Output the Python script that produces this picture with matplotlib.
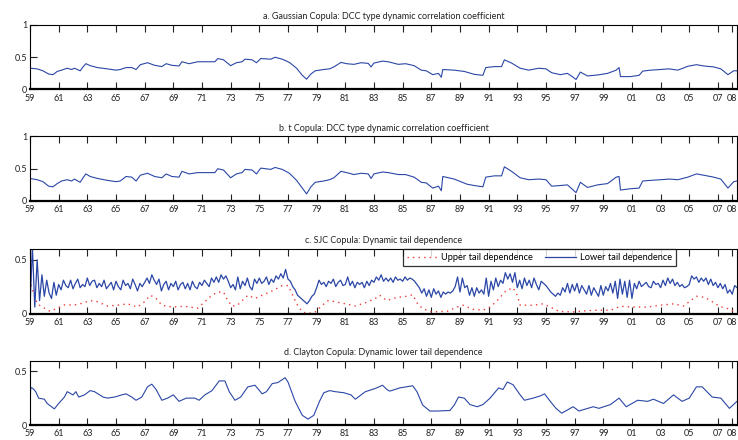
import matplotlib
matplotlib.use("Agg")
import matplotlib.pyplot as plt
import numpy as np

plt.rcParams['font.family'] = ['Lato', 'DejaVu Sans']
plt.rcParams['font.size'] = 6.5

# ---- data (year, value) ----
gauss_pts = [
    (1959.0, 0.33), (1959.5, 0.32), (1959.9, 0.29), (1960.3, 0.24), (1960.6, 0.23), (1960.9, 0.28),
    (1961.2, 0.30), (1961.6, 0.33), (1961.9, 0.31), (1962.1, 0.33), (1962.5, 0.29), (1962.7, 0.35),
    (1962.9, 0.40), (1963.2, 0.37), (1963.7, 0.34), (1964.4, 0.32), (1965.0, 0.30), (1965.3, 0.31),
    (1965.7, 0.34), (1966.1, 0.34), (1966.4, 0.31), (1966.7, 0.385), (1967.2, 0.415), (1967.7, 0.375),
    (1968.2, 0.355), (1968.5, 0.40), (1968.9, 0.375), (1969.4, 0.365), (1969.6, 0.43), (1970.1, 0.40),
    (1970.7, 0.43), (1971.3, 0.43), (1971.9, 0.43), (1972.1, 0.48), (1972.5, 0.46), (1973.0, 0.37),
    (1973.4, 0.415), (1973.8, 0.43), (1974.0, 0.47), (1974.5, 0.46), (1974.8, 0.415), (1975.1, 0.48),
    (1975.8, 0.47), (1976.1, 0.50), (1976.6, 0.47), (1977.1, 0.42), (1977.6, 0.33), (1978.0, 0.22),
    (1978.3, 0.16), (1978.6, 0.24), (1978.9, 0.29), (1979.5, 0.31), (1979.9, 0.32), (1980.2, 0.35),
    (1980.7, 0.42), (1981.1, 0.40), (1981.6, 0.39), (1982.1, 0.415), (1982.6, 0.405), (1982.8, 0.35),
    (1983.0, 0.41), (1983.6, 0.44), (1984.0, 0.43), (1984.7, 0.39), (1985.2, 0.40), (1985.8, 0.37),
    (1986.3, 0.30), (1986.65, 0.29), (1987.1, 0.23), (1987.5, 0.25), (1987.7, 0.19), (1987.8, 0.31),
    (1988.6, 0.30), (1989.3, 0.28), (1990.0, 0.235), (1990.6, 0.22), (1990.8, 0.34), (1991.4, 0.355),
    (1991.9, 0.355), (1992.1, 0.46), (1992.6, 0.41), (1993.2, 0.33), (1993.8, 0.30), (1994.5, 0.33),
    (1995.0, 0.32), (1995.4, 0.26), (1996.0, 0.23), (1996.5, 0.25), (1996.9, 0.19), (1997.1, 0.155),
    (1997.4, 0.27), (1997.9, 0.21), (1998.6, 0.225), (1999.3, 0.25), (1999.9, 0.30), (2000.1, 0.34),
    (2000.2, 0.20), (2000.9, 0.20), (2001.5, 0.22), (2001.75, 0.285), (2002.3, 0.30), (2003.0, 0.31),
    (2003.6, 0.32), (2004.2, 0.30), (2004.9, 0.36), (2005.5, 0.385), (2006.0, 0.365), (2006.7, 0.35),
    (2007.2, 0.32), (2007.7, 0.23), (2008.1, 0.29), (2008.33, 0.29),
]

t_pts = [
    (1959.0, 0.35), (1959.5, 0.33), (1959.9, 0.30), (1960.3, 0.23), (1960.6, 0.22), (1960.9, 0.27),
    (1961.2, 0.31), (1961.6, 0.33), (1961.9, 0.31), (1962.1, 0.34), (1962.5, 0.29), (1962.7, 0.36),
    (1962.9, 0.42), (1963.2, 0.38), (1963.7, 0.35), (1964.4, 0.32), (1965.0, 0.30), (1965.3, 0.31),
    (1965.7, 0.38), (1966.1, 0.37), (1966.4, 0.31), (1966.7, 0.40), (1967.2, 0.43), (1967.7, 0.38),
    (1968.2, 0.36), (1968.5, 0.42), (1968.9, 0.38), (1969.4, 0.37), (1969.6, 0.46), (1970.1, 0.42),
    (1970.7, 0.44), (1971.3, 0.44), (1971.9, 0.44), (1972.1, 0.50), (1972.5, 0.48), (1973.0, 0.36),
    (1973.4, 0.42), (1973.8, 0.44), (1974.0, 0.49), (1974.5, 0.48), (1974.8, 0.42), (1975.1, 0.51),
    (1975.8, 0.49), (1976.1, 0.52), (1976.6, 0.49), (1977.1, 0.43), (1977.6, 0.32), (1978.0, 0.20),
    (1978.3, 0.11), (1978.6, 0.22), (1978.9, 0.29), (1979.5, 0.31), (1979.9, 0.33), (1980.2, 0.36),
    (1980.7, 0.46), (1981.1, 0.44), (1981.6, 0.41), (1982.1, 0.43), (1982.6, 0.42), (1982.8, 0.35),
    (1983.0, 0.42), (1983.6, 0.45), (1984.0, 0.44), (1984.7, 0.41), (1985.2, 0.41), (1985.8, 0.37),
    (1986.3, 0.29), (1986.65, 0.28), (1987.1, 0.20), (1987.5, 0.23), (1987.7, 0.16), (1987.8, 0.38),
    (1988.6, 0.34), (1989.5, 0.26), (1990.0, 0.24), (1990.6, 0.22), (1990.8, 0.37), (1991.4, 0.39),
    (1991.9, 0.39), (1992.1, 0.53), (1992.6, 0.46), (1993.2, 0.36), (1993.8, 0.33), (1994.5, 0.34),
    (1995.0, 0.33), (1995.4, 0.23), (1996.0, 0.24), (1996.5, 0.25), (1996.9, 0.17), (1997.1, 0.13),
    (1997.4, 0.29), (1997.9, 0.21), (1998.6, 0.25), (1999.3, 0.27), (1999.9, 0.37), (2000.1, 0.38),
    (2000.2, 0.17), (2000.9, 0.19), (2001.5, 0.20), (2001.75, 0.31), (2002.3, 0.32), (2003.0, 0.33),
    (2003.6, 0.34), (2004.2, 0.33), (2004.9, 0.37), (2005.5, 0.42), (2006.0, 0.40), (2006.7, 0.37),
    (2007.2, 0.34), (2007.7, 0.20), (2008.1, 0.30), (2008.33, 0.31),
]

# SJC lower tail: values every two months from Jan 1959
sjc_lower = [
    0.05, 0.62, 0.06, 0.50, 0.12, 0.36,   # 1959
    0.16, 0.31, 0.19, 0.14, 0.29, 0.17,   # 1960
    0.27, 0.22, 0.31, 0.26, 0.24, 0.31,
    0.23, 0.28, 0.32, 0.24, 0.27, 0.25,
    0.33, 0.26, 0.30, 0.31, 0.24, 0.28,
    0.25, 0.31, 0.23, 0.26, 0.29, 0.22,
    0.30, 0.25, 0.22, 0.31, 0.26, 0.28,   # 1965
    0.23, 0.32, 0.27, 0.21, 0.28, 0.25,
    0.29, 0.33, 0.28, 0.36, 0.31, 0.27,
    0.32, 0.21, 0.27, 0.30, 0.22, 0.28,
    0.25, 0.30, 0.22, 0.27, 0.29, 0.23,
    0.28, 0.22, 0.30, 0.25, 0.23, 0.29,   # 1970
    0.26, 0.31, 0.28, 0.25, 0.33, 0.29,
    0.34, 0.29, 0.36, 0.32, 0.35, 0.30,
    0.24, 0.27, 0.22, 0.34, 0.23, 0.30,
    0.26, 0.33, 0.25, 0.22, 0.32, 0.28,
    0.33, 0.28, 0.30, 0.34, 0.27, 0.32,   # 1975
    0.29, 0.35, 0.32, 0.37, 0.33, 0.41,
    0.32, 0.30, 0.25, 0.22, 0.17, 0.15,
    0.13, 0.11, 0.09, 0.12, 0.16, 0.18,
    0.24, 0.31, 0.27, 0.29, 0.25, 0.30,
    0.28, 0.32, 0.25, 0.29, 0.31, 0.26,   # 1980
    0.27, 0.34, 0.26, 0.30, 0.24, 0.29,
    0.27, 0.29, 0.24, 0.30, 0.26, 0.31,
    0.29, 0.34, 0.31, 0.36, 0.30, 0.33,
    0.30, 0.33, 0.29, 0.34, 0.31, 0.32,
    0.30, 0.34, 0.31, 0.33, 0.32, 0.30,   # 1985
    0.27, 0.24, 0.19, 0.23, 0.16, 0.22,
    0.15, 0.23, 0.18, 0.21, 0.15, 0.20,
    0.18, 0.20, 0.19, 0.21, 0.25, 0.34,
    0.20, 0.33, 0.24, 0.26, 0.17, 0.24,
    0.16, 0.24, 0.19, 0.22, 0.18, 0.33,   # 1990
    0.16, 0.30, 0.22, 0.33, 0.25, 0.31,
    0.28, 0.38, 0.32, 0.37, 0.29, 0.38,
    0.24, 0.31, 0.23, 0.33, 0.26, 0.31,
    0.24, 0.33, 0.27, 0.22, 0.30, 0.28,
    0.26, 0.23, 0.20, 0.18, 0.16, 0.19,   # 1995
    0.17, 0.24, 0.20, 0.28, 0.19, 0.27,
    0.21, 0.28, 0.19, 0.26, 0.22, 0.18,
    0.26, 0.17, 0.24, 0.20, 0.16, 0.26,
    0.17, 0.25, 0.21, 0.28, 0.19, 0.30,
    0.14, 0.32, 0.18, 0.30, 0.15, 0.31,   # 2000
    0.14, 0.28, 0.23, 0.30, 0.25, 0.27,
    0.29, 0.25, 0.24, 0.30, 0.27, 0.28,
    0.24, 0.31, 0.26, 0.33, 0.28, 0.32,
    0.26, 0.29, 0.25, 0.27, 0.24, 0.25,
    0.27, 0.35, 0.32, 0.34, 0.29, 0.33,   # 2005
    0.30, 0.33, 0.27, 0.32, 0.26, 0.29,
    0.24, 0.28, 0.23, 0.27, 0.19, 0.22,
    0.18, 0.26, 0.24,                     # 2008
]

sjc_upper_pts = [
    (1959.0, 0.37), (1959.1, 0.25), (1959.5, 0.09), (1960.0, 0.05), (1960.4, 0.02), (1960.9, 0.05),
    (1961.4, 0.08), (1962.1, 0.08), (1962.5, 0.09), (1963.2, 0.12), (1963.7, 0.11), (1964.4, 0.07),
    (1965.1, 0.077), (1965.8, 0.09), (1966.5, 0.06), (1967.0, 0.11), (1967.4, 0.17), (1967.8, 0.14),
    (1968.2, 0.077), (1968.9, 0.06), (1969.8, 0.067), (1970.7, 0.05), (1971.2, 0.11), (1971.7, 0.17),
    (1972.1, 0.20), (1972.5, 0.20), (1972.8, 0.12), (1973.1, 0.067), (1973.5, 0.08), (1974.2, 0.17),
    (1974.7, 0.14), (1975.2, 0.17), (1975.9, 0.21), (1976.6, 0.26), (1977.0, 0.26), (1977.3, 0.18),
    (1977.6, 0.09), (1978.0, 0.015), (1978.4, 0.0), (1978.9, 0.015), (1979.4, 0.077), (1979.8, 0.12),
    (1980.3, 0.11), (1981.0, 0.09), (1981.7, 0.07), (1982.4, 0.10), (1983.1, 0.14), (1983.4, 0.17),
    (1983.9, 0.12), (1984.6, 0.15), (1985.3, 0.16), (1985.7, 0.175), (1986.1, 0.077), (1986.5, 0.04),
    (1987.0, 0.015), (1988.1, 0.02), (1988.8, 0.06), (1989.2, 0.077), (1989.9, 0.04), (1990.6, 0.03),
    (1991.1, 0.06), (1991.6, 0.12), (1992.2, 0.21), (1992.7, 0.24), (1993.0, 0.17), (1993.2, 0.077),
    (1994.1, 0.077), (1994.8, 0.09), (1995.3, 0.06), (1995.9, 0.02), (1996.9, 0.015), (1998.3, 0.03),
    (1999.5, 0.03), (2000.2, 0.067), (2001.1, 0.06), (2002.1, 0.06), (2003.0, 0.077), (2003.9, 0.09),
    (2004.6, 0.07), (2005.0, 0.11), (2005.5, 0.16), (2006.1, 0.15), (2006.6, 0.11), (2007.1, 0.067),
    (2007.7, 0.045), (2008.0, 0.025), (2008.33, 0.03),
]

clayton_pts = [
    (1959.0, 0.15), (1959.05, 0.35), (1959.2, 0.34), (1959.4, 0.31), (1959.6, 0.25), (1960.0, 0.24),
    (1960.2, 0.20), (1960.7, 0.15), (1961.0, 0.20), (1961.4, 0.26), (1961.6, 0.31), (1962.0, 0.28),
    (1962.2, 0.31), (1962.4, 0.26), (1962.8, 0.28), (1963.2, 0.32), (1963.5, 0.31), (1964.1, 0.26),
    (1964.4, 0.25), (1964.9, 0.26), (1965.4, 0.28), (1965.7, 0.29), (1966.1, 0.26), (1966.4, 0.23),
    (1966.8, 0.26), (1967.2, 0.355), (1967.5, 0.38), (1967.8, 0.33), (1968.2, 0.23), (1968.6, 0.25),
    (1969.0, 0.28), (1969.4, 0.22), (1969.9, 0.25), (1970.5, 0.25), (1970.8, 0.23), (1971.2, 0.28),
    (1971.7, 0.32), (1972.2, 0.41), (1972.6, 0.41), (1972.9, 0.31), (1973.3, 0.23), (1973.7, 0.26),
    (1974.2, 0.355), (1974.7, 0.37), (1975.2, 0.29), (1975.5, 0.31), (1975.9, 0.385), (1976.3, 0.395),
    (1976.8, 0.44), (1977.0, 0.40), (1977.5, 0.22), (1978.0, 0.09), (1978.4, 0.055), (1978.8, 0.09),
    (1979.2, 0.22), (1979.5, 0.30), (1979.9, 0.32), (1980.3, 0.31), (1980.9, 0.30), (1981.4, 0.28),
    (1981.7, 0.24), (1982.4, 0.31), (1983.1, 0.34), (1983.6, 0.37), (1983.9, 0.33), (1984.1, 0.315),
    (1984.8, 0.345), (1985.7, 0.365), (1986.0, 0.31), (1986.4, 0.185), (1986.9, 0.13), (1987.4, 0.13),
    (1988.3, 0.135), (1988.6, 0.185), (1988.9, 0.26), (1989.3, 0.25), (1989.7, 0.19), (1990.2, 0.17),
    (1990.6, 0.19), (1991.1, 0.25), (1991.7, 0.345), (1992.0, 0.33), (1992.3, 0.40), (1992.7, 0.375),
    (1993.2, 0.28), (1993.5, 0.23), (1994.1, 0.25), (1994.6, 0.27), (1994.9, 0.29), (1995.3, 0.22),
    (1995.7, 0.155), (1996.1, 0.11), (1996.5, 0.14), (1996.9, 0.17), (1997.3, 0.13), (1997.8, 0.15),
    (1998.3, 0.17), (1998.7, 0.155), (1999.5, 0.19), (2000.1, 0.25), (2000.6, 0.17), (2001.4, 0.23),
    (2002.1, 0.22), (2002.5, 0.24), (2003.2, 0.20), (2003.9, 0.28), (2004.5, 0.22), (2005.0, 0.25),
    (2005.5, 0.355), (2005.9, 0.355), (2006.6, 0.26), (2007.2, 0.25), (2007.8, 0.155), (2008.33, 0.22),
]

tick_years = [1959, 1961, 1963, 1965, 1967, 1969, 1971, 1973, 1975, 1977, 1979, 1981, 1983,
              1985, 1987, 1989, 1991, 1993, 1995, 1997, 1999, 2001, 2003, 2005, 2007, 2008]
tick_labels = ['59', '61', '63', '65', '67', '69', '71', '73', '75', '77', '79', '81', '83',
               '85', '87', '89', '91', '93', '95', '97', '99', '01', '03', '05', '07', '08']

titles = ['a. Gaussian Copula: DCC type dynamic correlation coefficient',
          'b. t Copula: DCC type dynamic correlation coefficient',
          'c. SJC Copula: Dynamic tail dependence',
          'd. Clayton Copula: Dynamic lower tail dependence']

BLUE = '#2b47a6'
RED = '#f03a3a'
X0, X1 = 1959.0, 2008.33

fig = plt.figure(figsize=(7.38, 4.40), dpi=100)
rects = [
    [30 / 738, 1 - 89.5 / 440, 707 / 738, 64.5 / 440],
    [30 / 738, 1 - 201 / 440, 707 / 738, 64.5 / 440],
    [30 / 738, 1 - 313.5 / 440, 707 / 738, 64.5 / 440],
    [30 / 738, 1 - 425 / 440, 707 / 738, 64.5 / 440],
]
axes = [fig.add_axes(r) for r in rects]


def style_axis(ax, title, ylim, yticks, yticklabels):
    ax.set_xlim(X0, X1)
    ax.set_ylim(*ylim)
    ax.set_xticks(tick_years)
    ax.set_xticklabels(tick_labels)
    ax.set_yticks(yticks)
    ax.set_yticklabels(yticklabels)
    ax.tick_params(axis='x', direction='in', top=True, length=5, width=0.8,
                   pad=3, labelsize=6.5, colors='#222222')
    ax.tick_params(axis='y', direction='in', right=False, length=5, width=0.8,
                   pad=2, labelsize=6.5, colors='#222222')
    for s in ax.spines.values():
        s.set_linewidth(0.8)
    ax.spines['bottom'].set_linewidth(1.6)
    ax.set_title(title, fontsize=6.5, pad=4, color='#222222')


g = np.array(gauss_pts)
axes[0].plot(g[:, 0], g[:, 1], color=BLUE, lw=0.8)
style_axis(axes[0], titles[0], (0, 1), [0, 0.5, 1], ['0', '0.5', '1'])

tp = np.array(t_pts)
axes[1].plot(tp[:, 0], tp[:, 1], color=BLUE, lw=0.8)
style_axis(axes[1], titles[1], (0, 1), [0, 0.5, 1], ['0', '0.5', '1'])

up = np.array(sjc_upper_pts)
lower_t = X0 + np.arange(len(sjc_lower)) / 6.0
axes[2].plot(up[:, 0], up[:, 1], color=RED, lw=1.0, linestyle=(0, (1, 3)),
             label='Upper tail dependence')
axes[2].plot(lower_t, sjc_lower, color=BLUE, lw=0.9, label='Lower tail dependence')
style_axis(axes[2], titles[2], (0, 0.6), [0, 0.5], ['0', '0.5'])
leg = axes[2].legend(loc='upper left', bbox_to_anchor=(0.527, 1.0), ncol=2,
                     fontsize=6.7, frameon=True, fancybox=False, edgecolor='black',
                     borderaxespad=0, handlelength=3.3, columnspacing=1.3,
                     borderpad=0.45, handletextpad=0.4)
leg.get_frame().set_linewidth(0.9)

c = np.array(clayton_pts)
axes[3].plot(c[:, 0], c[:, 1], color=BLUE, lw=0.8)
style_axis(axes[3], titles[3], (0, 0.6), [0, 0.5], ['0', '0.5'])

fig.savefig('out.png', dpi=100)
